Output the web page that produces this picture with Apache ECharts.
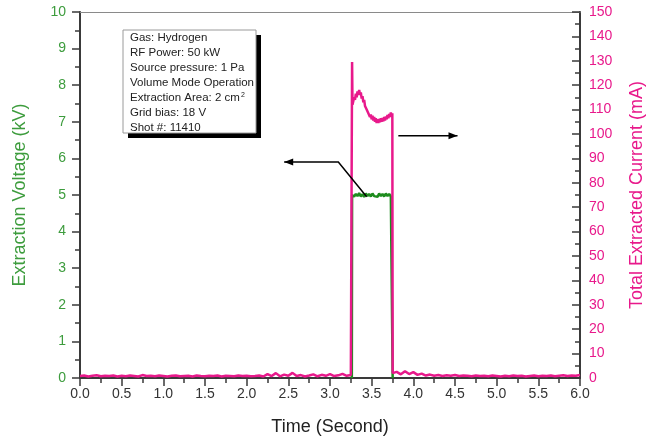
<!DOCTYPE html>
<html>
<head>
<meta charset="utf-8">
<script src="https://cdn.jsdelivr.net/npm/echarts@6/dist/echarts.min.js"></script>
<style>
  html, body { margin: 0; padding: 0; background: #ffffff; }
  #chart { width: 646px; height: 441px; }
</style>
</head>
<body>
<div id="chart"></div>
<script>
// Extracted beam current (mA) vs time (s), shot 11410
const currentTime = [
  0.00,0.05,0.10,0.15,0.20,0.25,0.30,0.35,0.40,0.45,
  0.50,0.55,0.60,0.65,0.70,0.75,0.80,0.85,0.90,0.95,
  1.00,1.05,1.10,1.15,1.20,1.25,1.30,1.35,1.40,1.45,
  1.50,1.55,1.60,1.65,1.70,1.75,1.80,1.85,1.90,1.95,
  2.00,2.05,2.10,2.15,2.20,2.25,2.30,2.35,2.40,2.45,
  2.50,2.55,2.60,2.65,2.70,2.75,2.80,2.85,2.90,2.95,
  3.00,3.05,3.10,3.15,3.20,3.25,
  3.262,3.265,3.270,
  3.28,3.29,3.30,3.31,3.32,3.33,3.34,3.35,3.36,3.37,
  3.38,3.39,3.40,3.41,3.42,3.43,3.44,3.45,3.46,3.47,
  3.48,3.49,3.50,3.51,3.52,3.53,3.54,3.55,3.56,3.57,
  3.58,3.59,3.60,3.61,3.62,3.63,3.64,3.65,3.66,3.67,
  3.68,3.69,3.70,3.71,3.72,3.73,3.74,3.748,
  3.752,3.80,3.85,3.90,3.95,4.00,4.05,4.10,4.15,4.20,
  4.25,4.30,4.35,4.40,4.45,4.50,4.55,4.60,4.65,4.70,
  4.75,4.80,4.85,4.90,4.95,5.00,5.05,5.10,5.15,5.20,
  5.25,5.30,5.35,5.40,5.45,5.50,5.55,5.60,5.65,5.70,
  5.75,5.80,5.85,5.90,5.95,6.00
];
const currentMA = [
  0.8,1.0,0.6,0.9,1.1,0.7,0.9,0.8,1.0,0.6,
  0.9,0.7,1.0,0.8,0.6,1.2,0.8,0.9,0.7,1.0,
  0.8,0.6,0.9,1.0,0.7,0.8,0.9,0.6,1.0,0.8,
  0.7,0.9,0.8,1.0,0.6,0.9,0.8,0.7,1.0,0.8,
  0.9,0.7,0.8,1.0,0.6,1.6,0.8,2.0,0.7,1.4,
  0.9,2.1,0.8,1.2,0.6,1.0,1.5,0.7,1.3,0.9,
  1.6,0.8,1.1,1.7,0.9,1.2,
  1.0,129.5,112.0,
  113.5,115.0,114.0,116.5,115.0,117.5,116.0,118.0,116.0,117.0,
  114.5,115.5,113.0,114.0,111.5,112.0,110.0,110.5,108.5,109.0,
  107.0,108.0,106.0,107.5,105.5,107.0,105.0,106.5,104.5,106.0,
  104.5,106.2,104.8,106.5,105.0,106.5,105.2,107.0,105.5,107.2,
  106.0,107.8,106.5,108.2,107.0,108.8,107.5,108.5,
  2.0,2.5,1.5,2.8,1.6,2.4,1.3,1.8,1.0,1.4,
  0.9,1.2,0.8,1.1,0.9,1.2,0.8,1.0,0.9,0.7,
  1.0,0.8,0.9,0.7,1.0,0.8,0.6,0.9,0.7,1.0,
  0.8,0.9,0.6,0.8,1.0,0.7,0.9,0.8,1.0,0.7,
  0.9,1.1,0.8,1.0,0.9,1.2
];

// Extraction voltage (kV) vs time (s) during the extraction pulse
const voltageTime = [
  3.262,3.265,
  3.27,3.29,3.31,3.33,3.35,3.37,3.39,3.41,3.43,3.45,
  3.47,3.49,3.51,3.53,3.55,3.57,3.59,3.61,3.63,3.65,
  3.67,3.69,3.71,3.73,3.748,
  3.752
];
const voltageKV = [
  0,5.0,
  5.04,4.96,5.03,4.97,5.05,4.96,5.02,4.95,5.04,4.97,
  5.03,4.96,5.04,4.97,5.02,4.95,5.04,4.97,5.03,4.96,
  5.04,4.97,5.03,4.96,5.0,
  0
];

// Axis ranges and tick spacing
const timeRange = [0, 6];
const timeStep = 0.5;
const voltageRange = [0, 10];
const voltageStep = 1;
const currentRange = [0, 150];
const currentStep = 10;

// Text of the run-condition box
const infoLines = [
  'Gas: Hydrogen',
  'RF Power: 50 kW',
  'Source pressure: 1 Pa',
  'Volume Mode Operation',
  'Extraction Area: 2 cm{sup|2}',
  'Grid bias: 18 V',
  'Shot #: 11410'
];

const PINK = '#e8198b';
const GREEN = '#1e8c1e';
const GREEN_TXT = '#3d9c3d';
const AXIS = '#3a3a3a';
const FONT = '"Liberation Sans", Arial, sans-serif';

const zip = (a, b) => a.map((v, i) => [v, b[i]]);

const chart = echarts.init(document.getElementById('chart'), null, { renderer: 'canvas' });

function axisStyle(inside) {
  return {
    axisLine: { show: true, onZero: false, lineStyle: { color: AXIS, width: 2 } },
    axisTick: { show: true, inside: inside, length: 8, lineStyle: { color: AXIS, width: 1.5 } },
    minorTick: { show: true, splitNumber: 2, length: 5, lineStyle: { color: AXIS, width: 1.5 } },
    splitLine: { show: false }
  };
}

chart.setOption({
  animation: false,
  backgroundColor: '#ffffff',
  textStyle: { fontFamily: FONT },
  grid: { left: 80, right: 66, top: 12, bottom: 63, containLabel: false, outerBoundsMode: 'none' },
  xAxis: [
    Object.assign(axisStyle(false), {
      type: 'value',
      position: 'bottom',
      min: timeRange[0], max: timeRange[1], interval: timeStep,
      name: 'Time (Second)',
      nameLocation: 'middle',
      nameGap: 40,
      nameTextStyle: { color: '#222', fontSize: 18, fontFamily: FONT },
      axisLabel: { color: '#333', fontSize: 14, margin: 9, formatter: v => v.toFixed(1) }
    }),
    {
      // thin frame line along the top of the plot
      type: 'value',
      position: 'top',
      min: timeRange[0], max: timeRange[1],
      axisLine: { show: true, onZero: false, lineStyle: { color: '#8a8a8a', width: 1 } },
      axisTick: { show: false },
      axisLabel: { show: false },
      splitLine: { show: false }
    }
  ],
  yAxis: [
    Object.assign(axisStyle(false), {
      type: 'value',
      position: 'left',
      min: voltageRange[0], max: voltageRange[1], interval: voltageStep,
      name: 'Extraction Voltage (kV)',
      nameLocation: 'middle',
      nameGap: 51,
      nameTextStyle: { color: GREEN_TXT, fontSize: 18, fontFamily: FONT },
      axisLabel: { color: GREEN_TXT, fontSize: 14, margin: 14 }
    }),
    Object.assign(axisStyle(true), {
      type: 'value',
      position: 'right',
      min: currentRange[0], max: currentRange[1], interval: currentStep,
      name: 'Total Extracted Current (mA)',
      nameLocation: 'middle',
      nameGap: 48,
      nameTextStyle: { color: PINK, fontSize: 18, fontFamily: FONT },
      axisLabel: { color: PINK, fontSize: 14, margin: 9 }
    })
  ],
  series: [
    {
      name: 'Extraction Voltage',
      type: 'line',
      xAxisIndex: 0,
      yAxisIndex: 0,
      data: zip(voltageTime, voltageKV),
      showSymbol: false,
      lineStyle: { color: GREEN, width: 2.5 },
      z: 2
    },
    {
      name: 'Total Extracted Current',
      type: 'line',
      xAxisIndex: 0,
      yAxisIndex: 1,
      data: zip(currentTime, currentMA),
      showSymbol: false,
      lineStyle: { color: PINK, width: 2.5 },
      z: 3
    }
  ]
});

// Annotation: run-condition box and the two arrows pointing to each axis
function px(t, kv) {
  return chart.convertToPixel({ xAxisIndex: 0, yAxisIndex: 0 }, [t, kv]);
}
const leftArrow = [px(2.45, 5.9), px(3.10, 5.9), px(3.44, 4.95)];
const rightArrow = [px(3.82, 6.62), px(4.53, 6.62)];

function arrowHead(tip, dir) {
  const len = 9, half = 3.5;
  return [tip, [tip[0] - dir * len, tip[1] - half], [tip[0] - dir * len, tip[1] + half]];
}

const box = { x: 123, y: 30, w: 133, h: 103 };
const graphics = [
  { type: 'rect', shape: { x: box.x + 5, y: box.y + 5, width: box.w, height: box.h }, style: { fill: '#000' }, z: 10 },
  { type: 'rect', shape: { x: box.x, y: box.y, width: box.w, height: box.h }, style: { fill: '#fff', stroke: '#9a9a9a', lineWidth: 1 }, z: 11 }
];
infoLines.forEach((line, i) => {
  graphics.push({
    type: 'text',
    x: box.x + 7,
    y: box.y + 2 + i * 14.9,
    z: 12,
    style: {
      text: line,
      fill: '#222',
      font: '11.5px ' + FONT,
      textVerticalAlign: 'top',
      rich: { sup: { fontSize: 7, verticalAlign: 'top', padding: [0, 0, 6, 1], fill: '#222' } }
    }
  });
});
graphics.push(
  { type: 'polyline', shape: { points: leftArrow.slice().reverse() }, style: { stroke: '#000', lineWidth: 1.5, fill: null }, z: 12 },
  { type: 'polygon', shape: { points: arrowHead(leftArrow[0], -1) }, style: { fill: '#000' }, z: 12 },
  { type: 'polyline', shape: { points: rightArrow }, style: { stroke: '#000', lineWidth: 1.5, fill: null }, z: 12 },
  { type: 'polygon', shape: { points: arrowHead(rightArrow[1], 1) }, style: { fill: '#000' }, z: 12 }
);
chart.setOption({ graphic: graphics });
</script>
</body>
</html>
